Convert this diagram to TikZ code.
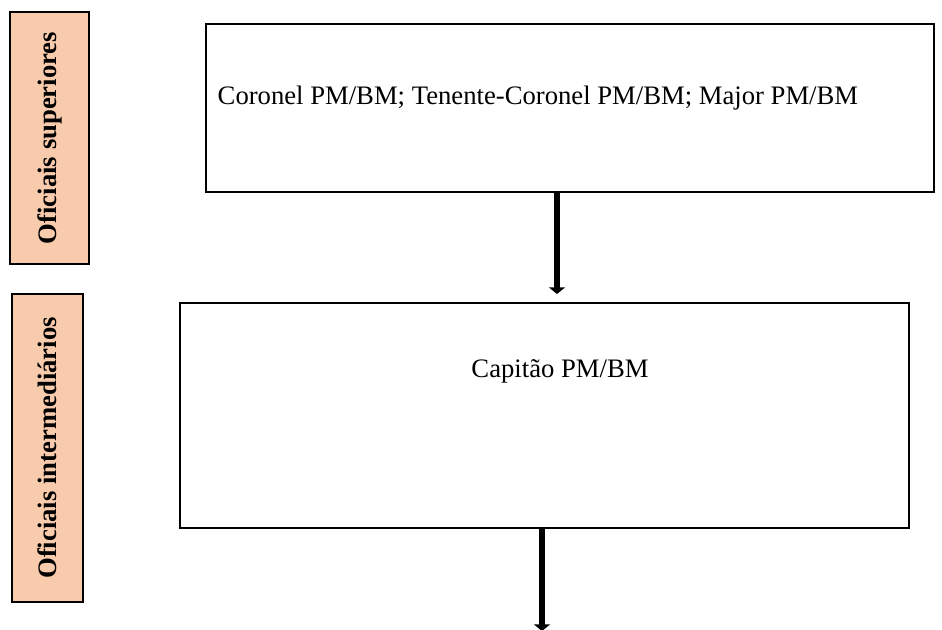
\documentclass[tikz,border=0pt]{standalone}
\usepackage{fontspec}
\setmainfont{Liberation Serif}
\usetikzlibrary{arrows.meta}
\definecolor{peach}{HTML}{F8CBAD}
\tikzset{
  sidebox/.style={draw=black, line width=1.1pt, fill=peach},
  sidelabel/.style={rotate=90, font=\bfseries\fontsize{20}{24}\selectfont},
  rankbox/.style={draw=black, fill=white},
  ranktext/.style={font=\fontsize{20}{24}\selectfont},
  bigarrow/.style={line width=4.5pt, -{Triangle[width=12pt,length=5pt]}}
}
\begin{document}
\begin{tikzpicture}[x=0.75pt,y=-0.75pt]
\useasboundingbox (0,0) rectangle (942,629);
% side boxes
\draw[sidebox] (10,12) rectangle (89,264);
\node[sidelabel] (sup) at (49.5,138) {Oficiais superiores};
\draw[sidebox] (12,294) rectangle (83,602);
\node[sidelabel] (int) at (47.5,448) {Oficiais intermediários};
% rank boxes
\draw[rankbox, line width=2pt] (206,24) rectangle (934,192);
\node[ranktext, anchor=west] (t1) at (213,98) {Coronel PM/BM; Tenente-Coronel PM/BM; Major PM/BM};
\draw[rankbox, line width=1.5pt] (180,303) rectangle (909,528);
\node[ranktext] (t2) at (560,371) {Capitão PM/BM};
\coordinate (a1s) at (557,193);
\coordinate (a1e) at (557,294);
\coordinate (a2s) at (542,529);
\coordinate (a2e) at (542,631);
\draw[bigarrow] (a1s) -- (a1e);
\draw[bigarrow] (a2s) -- (a2e);
\end{tikzpicture}
\end{document}
